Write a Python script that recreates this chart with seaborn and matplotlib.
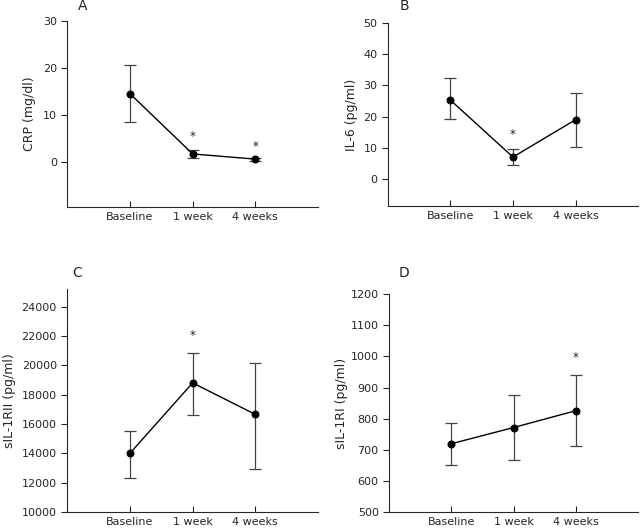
import matplotlib
matplotlib.use("Agg")
import matplotlib.pyplot as plt
import numpy as np
import pandas as pd
import seaborn as sns

sns.set_style("ticks")
plt.rcParams["font.family"] = ["DejaVu Sans"]

times = ["Baseline", "1 week", "4 weeks"]

# values: mean, lower and upper whisker
crp_mean = [14.5, 1.7, 0.6]
crp_low = [8.5, 0.8, 0.3]
crp_high = [20.6, 2.5, 0.9]
crp_star = [None, 5.4, 3.3]

il6_mean = [25.3, 7.0, 19.0]
il6_low = [19.3, 4.6, 10.2]
il6_high = [32.3, 9.6, 27.7]
il6_star = [None, 14.1, None]

rii_mean = [14000, 18800, 16650]
rii_low = [12300, 16600, 12950]
rii_high = [15500, 20850, 20150]
rii_star = [None, 22000, None]

ri_mean = [720, 772, 826]
ri_low = [652, 668, 712]
ri_high = [785, 875, 940]
ri_star = [None, None, 997]

# letter, ylabel, data..., ylim, yticks, axes box, letter pos, ylabel x
panels = [
    ("A", "CRP (mg/dl)", crp_mean, crp_low, crp_high, crp_star,
     (-9.5, 30), [0, 10, 20, 30], [0.105, 0.6085, 0.392, 0.3525], (0.063, 1.079), -0.123),
    ("B", "IL-6 (pg/ml)", il6_mean, il6_low, il6_high, il6_star,
     (-8.7, 50), [0, 10, 20, 30, 40, 50], [0.606, 0.61, 0.391, 0.346], (0.068, 1.095), -0.121),
    ("C", "sIL-1RII (pg/ml)", rii_mean, rii_low, rii_high, rii_star,
     (10000, 25200), list(range(10000, 24001, 2000)), [0.105, 0.0303, 0.392, 0.4224], (0.04, 1.072), -0.203),
    ("D", "sIL-1RI (pg/ml)", ri_mean, ri_low, ri_high, ri_star,
     (500, 1200), list(range(500, 1201, 100)), [0.608, 0.0297, 0.389, 0.4133], (0.06, 1.096), -0.166),
]

fig = plt.figure(figsize=(6.4, 5.28), dpi=100)

for letter, ylabel, mean, low, high, star, ylim, yticks, pos, lpos, ylx in panels:
    ax = fig.add_axes(pos)
    df = pd.DataFrame({"x": np.arange(len(times)), "y": mean})
    yerr = [np.array(mean) - np.array(low), np.array(high) - np.array(mean)]
    ax.errorbar(df["x"], df["y"], yerr=yerr, fmt="none", ecolor="#444444",
                elinewidth=0.9, capsize=4, capthick=0.9, zorder=2)
    sns.lineplot(data=df, x="x", y="y", color="black", linewidth=1.0,
                 marker="o", markersize=5, markeredgecolor="black", ax=ax, zorder=3)
    for i, s in enumerate(star):
        if s is not None:
            ax.text(i, s, "*", ha="center", va="center", fontsize=8.5)
    ax.set_xlim(-1, 3)
    ax.set_ylim(*ylim)
    ax.set_yticks(yticks)
    ax.set_xticks(range(len(times)))
    ax.set_xticklabels(times)
    ax.set_xlabel("")
    ax.set_ylabel(ylabel, fontsize=9)
    ax.yaxis.set_label_coords(ylx, 0.5)
    ax.tick_params(axis="x", direction="in", length=4, labelsize=8, pad=3.5)
    ax.tick_params(axis="y", direction="out", length=4, labelsize=8)
    sns.despine(ax=ax)
    ax.text(lpos[0], lpos[1], letter, transform=ax.transAxes,
            fontsize=10, ha="center", va="center")

fig.savefig("out.png", dpi=100)
